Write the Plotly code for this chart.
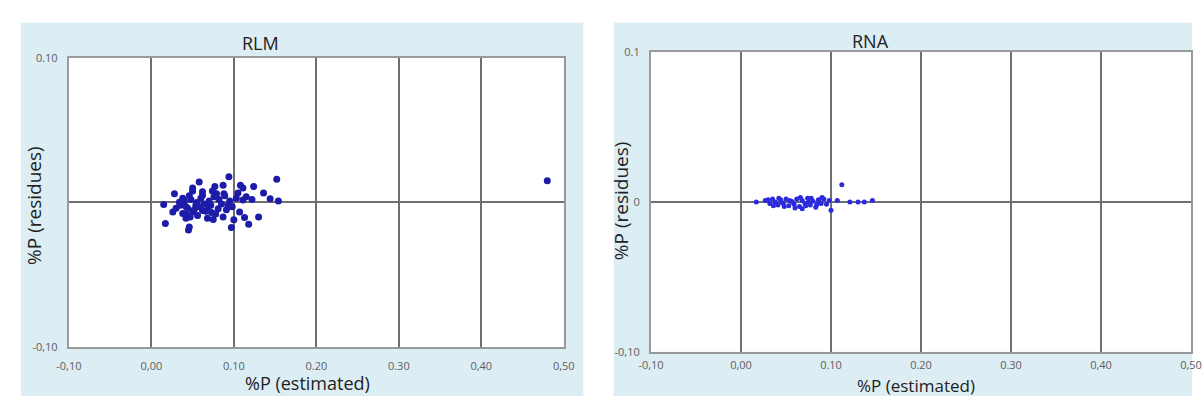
import plotly.graph_objects as go

W, H = 1203, 403

# ---------------- data ----------------
rlm_x = [0.094, 0.152, 0.058, 0.077, 0.124, 0.111, 0.105, 0.050, 0.062, 0.028,
         0.046, 0.079, 0.089, 0.136, 0.144, 0.154, 0.122, 0.111, 0.015, 0.034,
         0.042, 0.054, 0.069, 0.081, 0.093, 0.026, 0.038, 0.050, 0.062, 0.073,
         0.087, 0.107, 0.113, 0.130, 0.017, 0.042, 0.075, 0.118, 0.097, 0.045,
         0.046, 0.035, 0.040, 0.044, 0.048, 0.052, 0.055, 0.058, 0.060, 0.064,
         0.066, 0.070, 0.072, 0.076, 0.078, 0.082, 0.085, 0.088, 0.091, 0.095,
         0.098, 0.103, 0.038, 0.042, 0.047, 0.056, 0.062, 0.068, 0.074, 0.030,
         0.050, 0.087, 0.100, 0.108, 0.115, 0.480]
rlm_y = [0.0178, 0.0160, 0.0142, 0.0110, 0.0110, 0.0100, 0.0066, 0.0080, 0.0075, 0.0060,
         0.0047, 0.0060, 0.0047, 0.0066, 0.0025, 0.0010, 0.0020, 0.0018, -0.0014, 0.0002,
         -0.0030, -0.0020, -0.0030, -0.0043, -0.0020, -0.0066, -0.0077, -0.0066, -0.0055, -0.0070,
         -0.0100, -0.0066, -0.0104, -0.0100, -0.0145, -0.0110, -0.0118, -0.0150, -0.0174, -0.0190,
         -0.0170, -0.0020, 0.0010, -0.0040, 0.0020, -0.0050, 0.0000, -0.0030, 0.0030, -0.0010,
         -0.0060, 0.0010, -0.0020, 0.0040, -0.0080, 0.0020, -0.0010, 0.0060, -0.0050, 0.0010,
         -0.0030, 0.0030, 0.0030, -0.0080, -0.0100, -0.0090, 0.0050, -0.0110, 0.0080, -0.0040,
         0.0100, 0.0120, -0.0120, 0.0120, 0.0040, 0.0150]

rna_x = [0.017, 0.030, 0.112, 0.100, 0.121, 0.130, 0.137, 0.146, 0.107, 0.068,
         0.027, 0.032, 0.035, 0.038, 0.041, 0.044, 0.047, 0.050, 0.053, 0.056,
         0.059, 0.062, 0.065, 0.068, 0.071, 0.074, 0.077, 0.080, 0.083, 0.086,
         0.089, 0.092, 0.095, 0.036, 0.042, 0.048, 0.054, 0.060, 0.066, 0.072,
         0.078, 0.084, 0.090, 0.045, 0.057, 0.075, 0.087, 0.098]
rna_y = [0.0000, 0.0015, 0.0115, -0.0055, 0.0000, 0.0000, 0.0000, 0.0010, 0.0010, -0.0045,
         0.0010, -0.0010, 0.0020, 0.0000, -0.0020, 0.0015, -0.0010, 0.0020, -0.0025, 0.0005,
         -0.0015, 0.0020, -0.0030, 0.0010, -0.0010, 0.0025, -0.0020, 0.0005, -0.0035, 0.0015,
         -0.0010, 0.0020, -0.0015, -0.0025, 0.0025, -0.0030, 0.0010, -0.0040, 0.0030, -0.0025,
         0.0025, -0.0020, 0.0030, 0.0000, 0.0000, 0.0000, 0.0000, 0.0010]

x_tickvals = [-0.1, 0.0, 0.1, 0.2, 0.3, 0.4, 0.5]
x_ticktext = ["-0,10", "0,00", "0.10", "0.20", "0.30", "0,40", "0,50"]
rlm_y_tickvals = [-0.1, 0.1]
rlm_y_ticktext = ["-0,10", "0.10"]
rna_y_tickvals = [-0.1, 0.0, 0.1]
rna_y_ticktext = ["-0,10", "0", "0.1"]

# ---------------- layout geometry (pixels) ----------------
def px(x):
    return x / W

def py(y):
    return 1 - y / H

L = dict(x0=57, x1=562, y0=52, y1=352, bg=(8, 582), tl=8)
R = dict(x0=651, x1=1202, y0=46, y1=357, bg=(613, 1203), tl=2)

BG = "#DCEDF3"
GRID = "#6f6f6f"
BORDER = "#9a9a9a"
TICKF = dict(family="Open Sans, DejaVu Sans, sans-serif", size=11, color="#606060")

fig = go.Figure()
fig.add_trace(go.Scatter(x=rlm_x, y=rlm_y, mode="markers", xaxis="x", yaxis="y",
                         marker=dict(size=7, color="#1c1ca8"), showlegend=False))
fig.add_trace(go.Scatter(x=rna_x, y=rna_y, mode="markers", xaxis="x2", yaxis="y2",
                         marker=dict(size=5, color="#2a2ae0"), showlegend=False))

def xaxis(p):
    return dict(domain=[px(p["x0"]), px(p["x1"])], range=[-0.1, 0.5],
                tickvals=x_tickvals, ticktext=x_ticktext, tickfont=TICKF,
                ticks="outside", ticklen=p["tl"], tickcolor="rgba(0,0,0,0)",
                showgrid=True, gridcolor=GRID, gridwidth=1.5,
                zeroline=True, zerolinecolor=GRID, zerolinewidth=1.5,
                showline=True, mirror=True, linecolor=BORDER, linewidth=2,
                fixedrange=True)

def yaxis(p, tv, tt, anchor):
    return dict(domain=[py(p["y1"]), py(p["y0"])], range=[-0.1, 0.1],
                tickvals=tv, ticktext=tt, tickfont=TICKF, anchor=anchor,
                ticks="outside", ticklen=7, tickcolor="rgba(0,0,0,0)",
                showgrid=False, zeroline=True, zerolinecolor=GRID, zerolinewidth=1.5,
                showline=True, mirror=True, linecolor=BORDER, linewidth=2,
                fixedrange=True)

xa1 = xaxis(L); xa1["anchor"] = "y"
xa2 = xaxis(R); xa2["anchor"] = "y2"

shapes = []
for p in (L, R):
    shapes.append(dict(type="rect", xref="paper", yref="paper",
                       x0=px(p["bg"][0]), x1=px(p["bg"][1]), y0=0, y1=py(15),
                       fillcolor=BG, line=dict(width=0), layer="below"))
for p in (L, R):
    shapes.append(dict(type="rect", xref="paper", yref="paper",
                       x0=px(p["x0"]), x1=px(p["x1"]), y0=py(p["y1"]), y1=py(p["y0"]),
                       fillcolor="white", line=dict(width=0), layer="below"))

TF = "Open Sans, DejaVu Sans, sans-serif"
annotations = [
    dict(text="RLM", x=px(253), y=py(36), xref="paper", yref="paper", showarrow=False,
         font=dict(family=TF, size=18, color="#222"), xanchor="center", yanchor="middle"),
    dict(text="RNA", x=px(875), y=py(34), xref="paper", yref="paper", showarrow=False,
         font=dict(family=TF, size=18, color="#222"), xanchor="center", yanchor="middle"),
    dict(text="%P (estimated)", x=px(300), y=0, xref="paper", yref="paper", showarrow=False,
         font=dict(family=TF, size=18, color="#222"), xanchor="center", yanchor="bottom",
         borderpad=0),
    dict(text="%P (estimated)", x=px(921), y=-2 / H, xref="paper", yref="paper", showarrow=False,
         font=dict(family=TF, size=17, color="#222"), xanchor="center", yanchor="bottom",
         borderpad=0),
    dict(text="%P (residues)", x=px(22), y=py(205), xref="paper", yref="paper", showarrow=False,
         textangle=-90, font=dict(family=TF, size=19, color="#222"), xanchor="center", yanchor="middle"),
    dict(text="%P (residues)", x=px(620), y=py(200), xref="paper", yref="paper", showarrow=False,
         textangle=-90, font=dict(family=TF, size=19, color="#222"), xanchor="center", yanchor="middle"),
]

fig.update_layout(
    width=W, height=H, margin=dict(l=0, r=0, t=0, b=0),
    paper_bgcolor="white", plot_bgcolor="white",
    xaxis=xa1, yaxis=yaxis(L, rlm_y_tickvals, rlm_y_ticktext, "x"),
    xaxis2=xa2, yaxis2=yaxis(R, rna_y_tickvals, rna_y_ticktext, "x2"),
    shapes=shapes, annotations=annotations, showlegend=False,
)

fig.write_html("out.html",
               post_script="document.body.style.margin='0';document.body.style.overflow='hidden';")
